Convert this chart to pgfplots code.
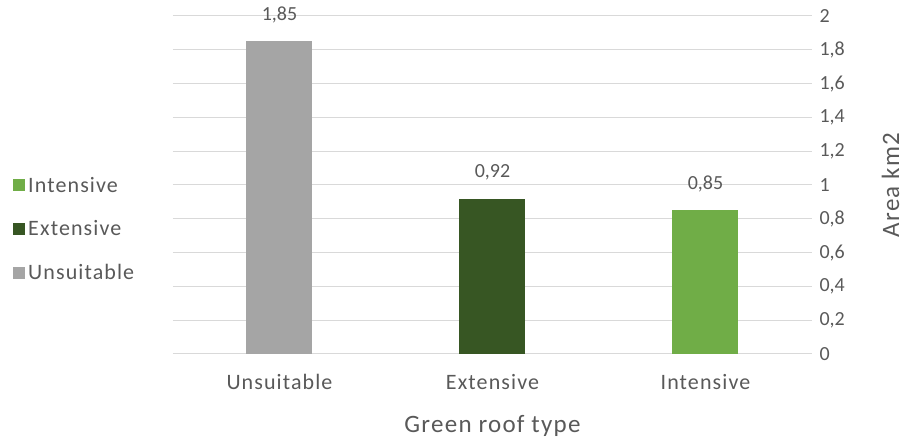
\documentclass[border=0pt]{standalone}
\usepackage{pgfplots}
\pgfplotsset{compat=1.18}
\usepackage{fontspec}
\setmainfont{Carlito}
\newfontfamily\lbl[LetterSpace=5]{Carlito}
\definecolor{txt}{HTML}{595959}
\definecolor{gridc}{HTML}{D9D9D9}
\definecolor{cUns}{HTML}{A5A5A5}
\definecolor{cExt}{HTML}{375623}
\definecolor{cInt}{HTML}{70AD47}
\begin{document}
\begin{tikzpicture}[x=1pt,y=1pt]
\useasboundingbox (-173,-89) rectangle (733,338+16);
\begin{axis}[
  at={(0,0)}, anchor=south west,
  scale only axis, width=639pt, height=338pt,
  ybar, bar width=66pt, bar shift=0pt,
  xmin=-0.5, xmax=2.5, ymin=0, ymax=2,
  xtick={0,1,2}, xticklabels={Unsuitable,Extensive,Intensive},
  ytick={0,0.2,...,2.01},
  yticklabel pos=right,
  axis line style={draw=none},
  major tick length=0pt,
  ymajorgrids, grid style={gridc, line width=1pt},
  tick label style={font=\fontsize{20}{23}\selectfont, text=txt},
  /pgf/number format/.cd, use comma, 1000 sep={}, assume math mode=true,
  /pgfplots/.cd,
  yticklabel style={anchor=west, xshift=4pt},
  xticklabel style={font=\lbl\fontsize{22}{25}\selectfont, anchor=north, yshift=-17pt},
  xlabel={Green roof type},
  ylabel={Area km2},
  label style={font=\lbl\fontsize{25}{28}\selectfont, text=txt},
  xlabel style={yshift=-19pt},
  ylabel style={xshift=0pt, yshift=-30pt},
  nodes near coords,
  nodes near coords style={font=\fontsize{20}{23}\selectfont, text=txt, yshift=15pt,
    /pgf/number format/.cd, fixed, fixed zerofill, precision=2, use comma, assume math mode=true},
  legend style={at={(axis description cs:-0.255,0.37)}, anchor=west, draw=none, fill=none,
    font=\lbl\fontsize{22}{25}\selectfont, text=txt, row sep=23pt,
    nodes={inner xsep=3pt}},
  legend cell align=left,
  reverse legend,
  legend image code/.code={\fill[#1] (0pt,-6pt) rectangle (12pt,6pt);},
]
\addplot[fill=cUns, draw=none] coordinates {(0,1.85)};
\addplot[fill=cExt, draw=none] coordinates {(1,0.92)};
\addplot[fill=cInt, draw=none] coordinates {(2,0.85)};
\legend{Unsuitable,Extensive,Intensive}
\end{axis}
\end{tikzpicture}
\end{document}
